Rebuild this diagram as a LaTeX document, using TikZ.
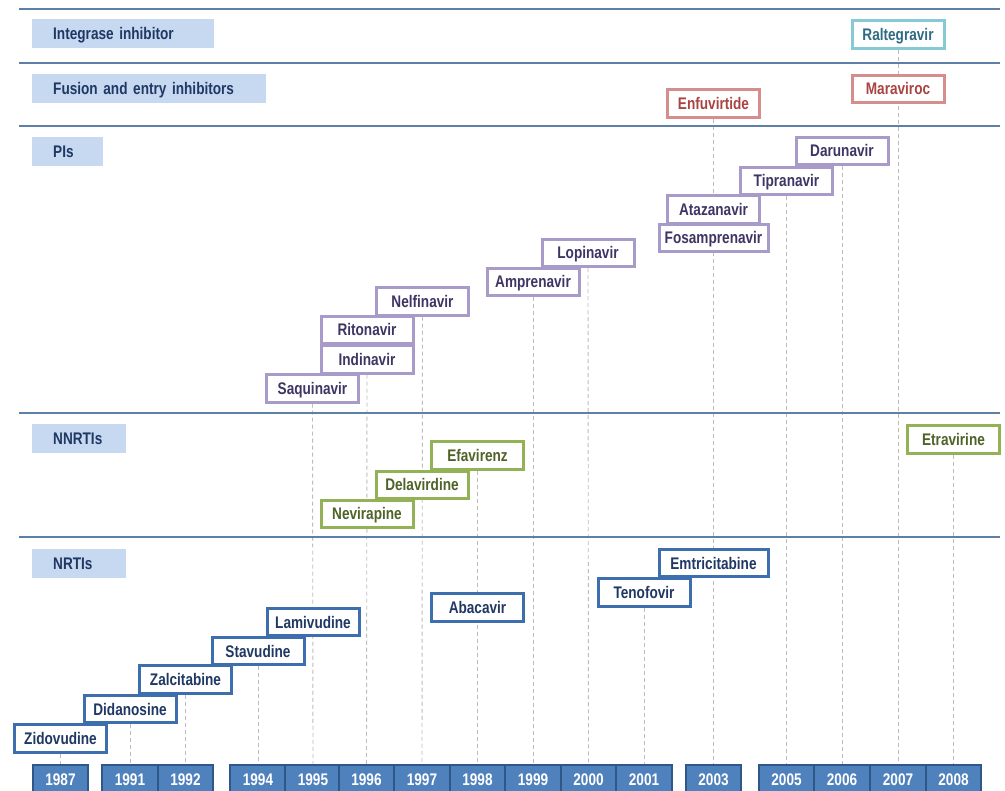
\documentclass[tikz,border=0pt]{standalone}
\usepackage{fontspec}
\setmainfont{Liberation Sans}[FakeStretch=0.81]
\usetikzlibrary{backgrounds}
\definecolor{rulec}{HTML}{5E7FA6}
\definecolor{catfill}{HTML}{C6D9F1}
\definecolor{navy}{HTML}{1F3864}
\definecolor{yrfill}{HTML}{4F81BD}
\definecolor{yrdraw}{HTML}{2F5889}
\definecolor{nrtid}{HTML}{3D6FAE}
\definecolor{nnrtid}{HTML}{93B255}
\definecolor{nnrtit}{HTML}{4F6228}
\definecolor{pid}{HTML}{A99BC9}
\definecolor{pit}{HTML}{3F3565}
\definecolor{fusd}{HTML}{D68E8C}
\definecolor{fust}{HTML}{AA4442}
\definecolor{intd}{HTML}{86CAD6}
\definecolor{intt}{HTML}{2E6B85}
\definecolor{dashc}{HTML}{BDBDBD}
\begin{document}
\begin{tikzpicture}[x=1pt,y=-1pt,
  every node/.style={font=\bfseries\fontsize{16.8}{19}\selectfont},
  rulel/.style={draw=rulec, line width=1.3pt},
  cat/.style={fill=catfill, anchor=west, inner xsep=21pt, inner ysep=0pt, minimum height=29pt, align=left, text=navy, text height=12pt, text depth=0pt},
  yr/.style={draw=yrdraw, fill=yrfill, line width=1.8pt, minimum width=55.5pt, minimum height=29pt, inner sep=0pt, text=white, text height=12pt, text depth=0pt},
  drug/.style={fill=white, line width=3pt, minimum width=92pt, minimum height=27.5pt, inner sep=0pt, text height=12pt, text depth=0pt},
  wide/.style={minimum width=109pt},
  nrti/.style={drug, draw=nrtid, text=navy},
  nnrti/.style={drug, draw=nnrtid, text=nnrtit},
  pi/.style={drug, draw=pid, text=pit},
  fus/.style={drug, draw=fusd, text=fust},
  integ/.style={drug, draw=intd, text=intt},
  dashln/.style={draw=dashc, line width=0.9pt, dash pattern=on 4pt off 3pt}
]
\useasboundingbox (0,0) rectangle (1005,791);

% section rules
\draw[rulel] (19,9) -- (1000,9);
\draw[rulel] (19,63) -- (1000,63);
\draw[rulel] (19,126) -- (1000,126);
\draw[rulel] (19,413) -- (1000,413);
\draw[rulel] (19,537) -- (1000,537);

% category labels
\node[cat, minimum width=182pt, text width=140pt] (cint) at (32,33.5) {Integrase inhibitor};
\node[cat, minimum width=234pt, text width=192pt] (cfus) at (32,88.5) {Fusion and entry inhibitors};
\node[cat, minimum width=71pt, text width=29pt] (cpi) at (32,152) {PIs};
\node[cat, minimum width=94pt, text width=52pt] (cnnrti) at (32,438.5) {NNRTIs};
\node[cat, minimum width=94pt, text width=52pt] (cnrti) at (32,563.5) {NRTIs};

% year axis
\node[yr] (y1987) at (60.5,779.5) {1987};
\node[yr] (y1991) at (130,779.5) {1991};
\node[yr] (y1992) at (185.5,779.5) {1992};
\node[yr] (y1994) at (258,779.5) {1994};
\node[yr] (y1995) at (313,779.5) {1995};
\node[yr] (y1996) at (366.5,779.5) {1996};
\node[yr] (y1997) at (422,779.5) {1997};
\node[yr] (y1998) at (477.5,779.5) {1998};
\node[yr] (y1999) at (533,779.5) {1999};
\node[yr] (y2000) at (588.5,779.5) {2000};
\node[yr] (y2001) at (644,779.5) {2001};
\node[yr] (y2003) at (713.5,779.5) {2003};
\node[yr] (y2005) at (786.5,779.5) {2005};
\node[yr] (y2006) at (842,779.5) {2006};
\node[yr] (y2007) at (898,779.5) {2007};
\node[yr] (y2008) at (953.5,779.5) {2008};

% integrase / fusion
\node[integ] (ral) at (898,34.5) {Raltegravir};
\node[fus] (mar) at (898,89) {Maraviroc};
\node[fus] (enf) at (713.5,103.5) {Enfuvirtide};

% PIs
\node[pi] (dar) at (842,151) {Darunavir};
\node[pi] (tip) at (786.5,181) {Tipranavir};
\node[pi] (ata) at (713.5,209.5) {Atazanavir};
\node[pi, wide] (fos) at (713.5,238) {Fosamprenavir};
\node[pi] (lop) at (588,253) {Lopinavir};
\node[pi] (amp) at (533,282) {Amprenavir};
\node[pi] (nel) at (422.5,301.5) {Nelfinavir};
\node[pi] (rit) at (367,330) {Ritonavir};
\node[pi] (ind) at (367,359.5) {Indinavir};
\node[pi] (saq) at (312.5,388.5) {Saquinavir};

% NNRTIs
\node[nnrti] (etr) at (953.5,439.5) {Etravirine};
\node[nnrti] (efa) at (477.5,455.5) {Efavirenz};
\node[nnrti] (del) at (422,485) {Delavirdine};
\node[nnrti] (nev) at (367,514) {Nevirapine};

% NRTIs
\node[nrti, wide] (emt) at (713.5,563) {Emtricitabine};
\node[nrti] (ten) at (644,592.5) {Tenofovir};
\node[nrti] (aba) at (477.5,607.5) {Abacavir};
\node[nrti] (lam) at (313,622) {Lamivudine};
\node[nrti] (sta) at (258,651) {Stavudine};
\node[nrti] (zal) at (185.5,679.5) {Zalcitabine};
\node[nrti] (did) at (130,709) {Didanosine};
\node[nrti] (zid) at (60.5,738.5) {Zidovudine};

% dashed year guides (behind everything)
\begin{scope}[on background layer]
\fill[white] (0,0) rectangle (1005,791);
\draw[dashln] (ral.south) -- (y2007.north);
\draw[dashln] (enf.south) -- (y2003.north);
\draw[dashln] (dar.south) -- (y2006.north);
\draw[dashln] (tip.south) -- (y2005.north);
\draw[dashln] (lop.south) -- (y2000.north);
\draw[dashln] (amp.south) -- (y1999.north);
\draw[dashln] (nel.south) -- (y1997.north);
\draw[dashln] (ind.south) -- (y1996.north);
\draw[dashln] (saq.south) -- (y1995.north);
\draw[dashln] (etr.south) -- (y2008.north);
\draw[dashln] (efa.south) -- (y1998.north);
\draw[dashln] (ten.south) -- (y2001.north);
\draw[dashln] (sta.south) -- (y1994.north);
\draw[dashln] (zal.south) -- (y1992.north);
\draw[dashln] (did.south) -- (y1991.north);
\draw[dashln] (zid.south) -- (y1987.north);
\end{scope}
\end{tikzpicture}
\end{document}
